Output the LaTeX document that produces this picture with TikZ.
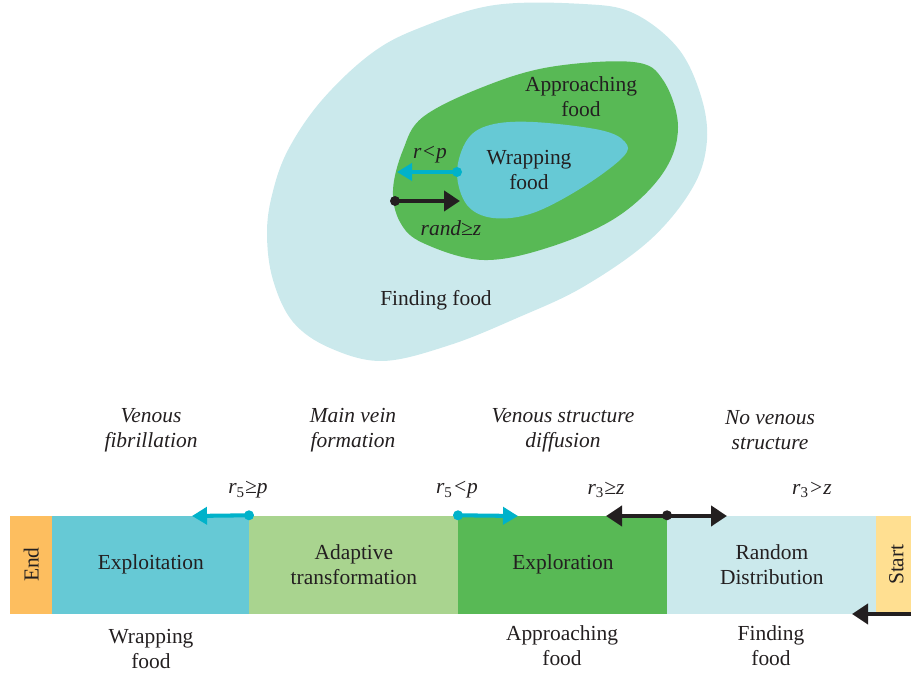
\documentclass[tikz,border=0pt]{standalone}
\usepackage{fontspec}
\setmainfont{Liberation Serif}
\usetikzlibrary{arrows.meta}

\begin{document}
\begin{tikzpicture}[
    x=1cm, y=1cm,
    every node/.style={font=\fontsize{12.2}{14.2}\selectfont, align=center, text=inkDark},
    zone/.style={smooth cycle, tension=0.6},
    stage/.style={
      rectangle, anchor=south west,
      minimum height=1.96cm, inner sep=0pt
    },
    phase/.style={font=\fontsize{12.2}{14.2}\selectfont\itshape},
    cond/.style={font=\fontsize{12.2}{14.2}\selectfont\itshape},
    cyanarr/.style={-{Triangle[length=0.3cm, width=0.34cm]}, draw=tipCyan, line width=2.3pt},
    blkarr/.style={-{Triangle[length=0.32cm, width=0.4cm]}, draw=inkDark, line width=2.3pt}
  ]
    \definecolor{inkDark}{RGB}{35,31,32}
    \definecolor{findFill}{RGB}{203,233,236}
    \definecolor{approachGreen}{RGB}{88,185,85}
    \definecolor{wrapCyan}{RGB}{102,201,213}
    \definecolor{tipCyan}{RGB}{0,178,202}
    \definecolor{adaptGreen}{RGB}{169,212,143}
    \definecolor{endOrange}{RGB}{253,190,95}
    \definecolor{startYellow}{RGB}{255,223,145}

    \useasboundingbox (0,0) rectangle (18.22,13.52);
    \clip (0,0) rectangle (18.22,13.52);

    % search zones
    \fill[findFill] plot[zone] coordinates {
      (11.66,13.44) (12.66,13.26) (13.54,12.58) (14.00,11.66) (14.14,10.72)
      (13.86,9.78) (13.00,8.72) (11.66,7.78) (10.34,7.16) (9.00,6.62)
      (7.66,6.30) (6.60,6.56) (5.86,7.08) (5.46,7.92) (5.34,8.82)
      (5.44,9.62) (5.76,10.52) (6.44,11.52) (7.44,12.46) (8.44,12.98)
      (9.90,13.42)};
    \fill[approachGreen] plot[zone] coordinates {
      (12.66,12.28) (13.26,11.92) (13.56,10.98) (13.26,10.06) (12.34,9.18)
      (11.00,8.58) (9.66,8.32) (8.46,8.66) (8.00,9.08) (7.86,9.72)
      (8.06,10.52) (8.46,11.18) (9.66,11.78) (11.00,12.18)};
    \fill[wrapCyan] plot[zone] coordinates {
      (9.14,10.06) (9.34,10.72) (9.80,11.02) (10.66,11.08) (12.00,10.92)
      (12.50,10.68) (12.46,10.38) (11.66,9.78) (10.66,9.26) (9.86,9.16)
      (9.34,9.42)};

    \node (findTxt) at (8.72,7.52) {Finding food};
    \node (approachTxt) at (11.62,11.58) {Approaching\\food};
    \node (wrapTxt) at (10.58,10.12) {Wrapping\\food};
    \node[cond] (rpTxt) at (8.60,10.42) {r<p};
    \node[cond] (randTxt) at (9.02,8.96) {rand≥z};

    \coordinate (wrapTail) at (9.14,10.08);
    \coordinate (rpTip) at (7.94,10.08);
    \coordinate (randTail) at (7.90,9.50);
    \coordinate (randTip) at (9.20,9.50);
    \fill[tipCyan] (wrapTail) circle (0.1);
    \draw[cyanarr] (wrapTail) -- (rpTip);
    \fill[inkDark] (randTail) circle (0.1);
    \draw[blkarr] (randTail) -- (randTip);

    % stage strip
    \node[stage, fill=endOrange, minimum width=0.84cm] (endBox) at (0.20,1.24) {};
    \node[stage, fill=wrapCyan, minimum width=3.94cm] (exploit) at (1.04,1.24) {Exploitation};
    \node[stage, fill=adaptGreen, minimum width=4.18cm] (adapt) at (4.98,1.24) {Adaptive\\transformation};
    \node[stage, fill=approachGreen, minimum width=4.18cm] (explore) at (9.16,1.24) {Exploration};
    \node[stage, fill=findFill, minimum width=4.18cm] (random) at (13.34,1.24) {Random\\Distribution};
    \node[stage, fill=startYellow, minimum width=0.80cm] (startBox) at (17.52,1.24) {};
    \node[rotate=90] (endTxt) at (endBox.center) {End};
    \node[rotate=90] (startTxt) at (startBox.center) {Start};

    % vein phases
    \node[phase] (ph1) at (3.02,4.92) {Venous\\fibrillation};
    \node[phase] (ph2) at (7.06,4.92) {Main vein\\formation};
    \node[phase] (ph3) at (11.26,4.92) {Venous structure\\diffusion};
    \node[phase] (ph4) at (15.40,4.92) {No venous\\structure};

    \node[cond] (c1) at (4.96,3.72) {r\textsubscript{\upshape 5}≥p};
    \node[cond] (c2) at (9.14,3.72) {r\textsubscript{\upshape 5}<p};
    \node[cond] (c3) at (12.12,3.72) {r\textsubscript{\upshape 3}≥z};
    \node[cond] (c4) at (16.24,3.72) {r\textsubscript{\upshape 3}>z};

    \node (below1) at (3.02,0.54) {Wrapping\\food};
    \node (below2) at (11.24,0.60) {Approaching\\food};
    \node (below3) at (15.42,0.60) {Finding\\food};

    \coordinate (r5Left) at (3.84,3.20);
    \coordinate (r5Right) at (10.36,3.20);
    \coordinate (r3Left) at (12.12,3.20);
    \coordinate (r3Right) at (14.54,3.20);
    \coordinate (backTip) at (17.04,1.24);

    \fill[tipCyan] (adapt.north west) circle (0.1);
    \draw[cyanarr] (adapt.north west) -- (r5Left);
    \fill[tipCyan] (explore.north west) circle (0.1);
    \draw[cyanarr] (explore.north west) -- (r5Right);
    \draw[blkarr, {Triangle[length=0.32cm, width=0.4cm]}-{Triangle[length=0.32cm, width=0.4cm]}] (r3Left) -- (r3Right);
    \fill[inkDark] (random.north west) circle (0.1);
    \fill[inkDark] (startBox.south east) circle (0.1);
    \draw[blkarr] (startBox.south east) -- (backTip);
  \end{tikzpicture}
\end{document}
